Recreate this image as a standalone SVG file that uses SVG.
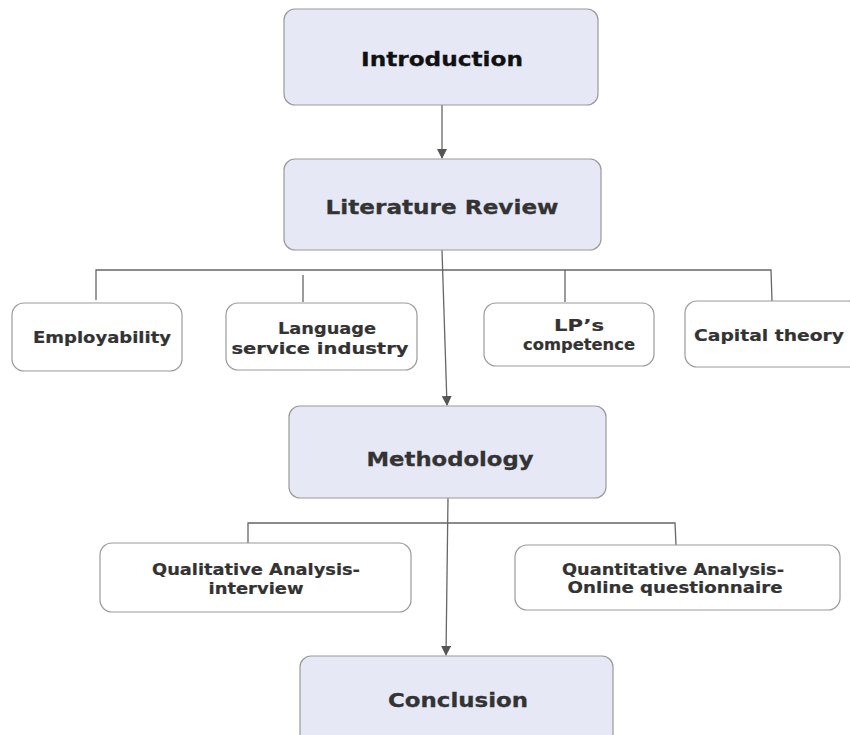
<svg xmlns="http://www.w3.org/2000/svg" width="850" height="735" viewBox="0 0 850 735">
  <defs>
    <marker id="arrow" viewBox="0 0 10 10" refX="9" refY="5" markerWidth="10" markerHeight="10" markerUnits="userSpaceOnUse" orient="auto">
      <path d="M0,0 L10,5 L0,10 z" fill="#555"/>
    </marker>
    <style>
      .main { fill: #e6e8f5; stroke: #9a9a9a; stroke-width: 1.2; }
      .sub { fill: #ffffff; stroke: #9a9a9a; stroke-width: 1.2; }
      .link { fill: none; stroke: #666; stroke-width: 1.3; }
      .title { font-family: "DejaVu Sans", Verdana, sans-serif; font-weight: bold; font-size: 20px; fill: #333; stroke: #333; stroke-width: 0.3; text-anchor: middle; }
      .label { font-family: "DejaVu Sans", Verdana, sans-serif; font-weight: bold; font-size: 15.5px; fill: #333; stroke: #333; stroke-width: 0.2; text-anchor: middle; }
    </style>
  </defs>

  <rect width="850" height="735" fill="#ffffff"/>

  <!-- connectors -->
  <g id="connectors">
    <path class="link" d="M442,105 L442,158" marker-end="url(#arrow)"/>
    <path class="link" d="M442,250 L447,405" marker-end="url(#arrow)"/>
    <path class="link" d="M96,300 L96,270 L771,270 L772,301"/>
    <path class="link" d="M303,275 L303,302"/>
    <path class="link" d="M565,270 L565,302"/>
    <path class="link" d="M448,498 L446,655" marker-end="url(#arrow)"/>
    <path class="link" d="M248,543 L248,523 L675,523 L676,545"/>
  </g>

  <g id="introduction">
    <rect class="main" x="284" y="9" width="314" height="96" rx="11"/>
    <text class="title" x="442" y="66" textLength="162" lengthAdjust="spacingAndGlyphs" style="fill:#111;stroke:#111">Introduction</text>
  </g>

  <g id="literature-review">
    <rect class="main" x="284" y="159" width="317" height="91" rx="11"/>
    <text class="title" x="442" y="214" textLength="233" lengthAdjust="spacingAndGlyphs">Literature Review</text>
  </g>

  <g id="employability">
    <rect class="sub" x="12" y="303" width="170" height="68" rx="12"/>
    <text class="label" x="102" y="343" textLength="138" lengthAdjust="spacingAndGlyphs">Employability</text>
  </g>

  <g id="language-service-industry">
    <rect class="sub" x="226" y="303" width="191" height="67" rx="12"/>
    <text class="label" x="327" y="334" textLength="98" lengthAdjust="spacingAndGlyphs" style="font-size:16.5px">Language</text>
    <text class="label" x="320" y="354" textLength="177" lengthAdjust="spacingAndGlyphs" style="font-size:16.5px">service industry</text>
  </g>

  <g id="lp-competence">
    <rect class="sub" x="484" y="303" width="170" height="63" rx="12"/>
    <text class="label" x="579" y="331" textLength="50" lengthAdjust="spacingAndGlyphs" style="font-size:16.5px">LP’s</text>
    <text class="label" x="579" y="350" textLength="112" lengthAdjust="spacingAndGlyphs" style="font-size:16.5px">competence</text>
  </g>

  <g id="capital-theory">
    <rect class="sub" x="685" y="301" width="175" height="66" rx="12"/>
    <text class="label" x="769" y="341" textLength="150" lengthAdjust="spacingAndGlyphs" style="font-size:16.5px">Capital theory</text>
  </g>

  <g id="methodology">
    <rect class="main" x="289" y="406" width="317" height="92" rx="11"/>
    <text class="title" x="450" y="466" textLength="167" lengthAdjust="spacingAndGlyphs">Methodology</text>
  </g>

  <g id="qualitative-analysis">
    <rect class="sub" x="100" y="543" width="311" height="69" rx="12"/>
    <text class="label" x="256" y="575" textLength="208" lengthAdjust="spacingAndGlyphs">Qualitative Analysis-</text>
    <text class="label" x="256" y="594" textLength="95" lengthAdjust="spacingAndGlyphs">interview</text>
  </g>

  <g id="quantitative-analysis">
    <rect class="sub" x="515" y="545" width="325" height="65" rx="12"/>
    <text class="label" x="673" y="575" textLength="222" lengthAdjust="spacingAndGlyphs">Quantitative Analysis-</text>
    <text class="label" x="675" y="593" textLength="215" lengthAdjust="spacingAndGlyphs">Online questionnaire</text>
  </g>

  <g id="conclusion">
    <rect class="main" x="300" y="656" width="313" height="95" rx="11"/>
    <text class="title" x="458" y="707" textLength="140" lengthAdjust="spacingAndGlyphs">Conclusion</text>
  </g>
</svg>
